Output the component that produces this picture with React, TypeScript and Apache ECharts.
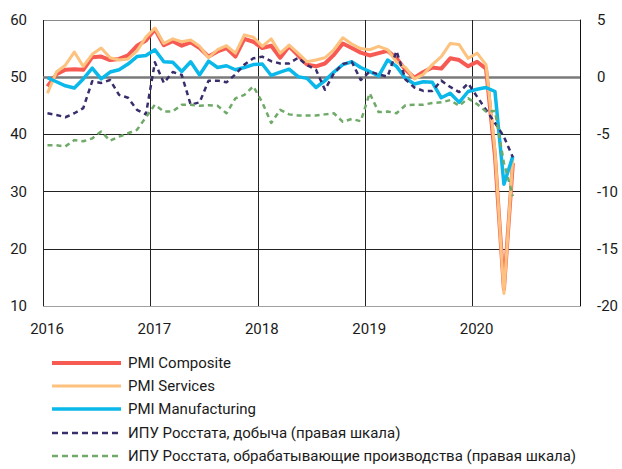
import React, { useEffect, useRef } from "react";
import * as echarts from "echarts";

const yearLabels = ["2016", "2017", "2018", "2019", "2020"];
const seriesNames = [
  "PMI Composite",
  "PMI Services",
  "PMI Manufacturing",
  "ИПУ Росстата, добыча (правая шкала)",
  "ИПУ Росстата, обрабатывающие производства (правая шкала)",
];

// Monthly, Jan 2016 .. May 2020
const pmiComposite = [
  48.4, 50.5, 51.3, 51.4, 51.3, 53.5, 53.6, 53.0, 53.2, 53.8, 55.5, 56.4,
  58.4, 55.6, 56.3, 55.5, 56.1, 55.1, 53.6, 54.5, 55.1, 53.6, 56.7, 56.2,
  55.1, 55.5, 53.4, 55.4, 53.8, 52.2, 51.9, 52.4, 53.9, 55.9, 55.1, 54.3,
  53.8, 54.2, 54.6, 53.3, 51.3, 49.9, 50.9, 51.7, 51.5, 53.3, 53.0, 51.9,
  52.7, 51.5, 36.2, 12.9, 35.0,
];
const pmiServices = [
  47.2, 50.9, 52.1, 54.4, 51.9, 54.0, 55.1, 53.4, 53.0, 53.2, 54.6, 57.0,
  58.6, 55.9, 56.7, 56.2, 56.5, 55.4, 53.4, 54.8, 55.5, 54.2, 57.4, 57.0,
  55.4, 56.7, 54.2, 55.6, 54.2, 52.7, 53.0, 53.4, 54.8, 56.9, 55.8, 55.0,
  54.8, 55.4, 54.8, 52.7, 51.7, 49.7, 50.5, 52.2, 53.6, 55.9, 55.7, 53.3,
  54.2, 52.2, 37.1, 12.2, 35.9,
];
const pmiManufacturing = [
  49.9, 49.2, 48.5, 48.1, 49.7, 51.6, 49.7, 50.9, 51.3, 52.3, 53.6, 53.8,
  54.8, 52.7, 52.6, 51.0, 52.7, 50.4, 52.8, 51.7, 52.0, 51.3, 51.7, 52.2,
  52.3, 50.3, 50.9, 51.4, 50.1, 49.8, 48.2, 49.4, 50.9, 52.2, 52.7, 51.7,
  51.0, 50.2, 53.0, 51.9, 49.8, 48.8, 49.2, 49.1, 46.4, 47.2, 45.6, 47.5,
  47.9, 48.2, 47.5, 31.3, 36.2,
];
const ipuMining = [
  -3.15, -3.3, -3.5, -3.15, -2.7, -0.35, -0.5, -0.25, -1.55, -1.8, -2.85, -3.25,
  1.3, -0.5, 0.45, 0.2, -2.4, -2.2, -0.3, -0.3, -0.45, 0.25, 1.1, 1.65,
  1.8, 1.4, 1.2, 1.2, 1.7, 1.05, 0.65, -1.1, 0.35, 1.15, 1.35, -0.25,
  0.5, 0.25, 0.05, 2.3, -0.2, -0.9, -1.2, -1.2, -0.3, -0.85, -1.3, -0.55,
  -1.7, -2.85, -4.0, -5.2, -7.0,
];
const ipuManufacturing = [
  -5.95, -5.95, -6.05, -5.5, -5.6, -5.35, -4.75, -5.55, -5.2, -4.9, -4.6, -3.5,
  -2.4, -3.0, -3.0, -2.4, -2.4, -2.5, -2.45, -2.5, -3.15, -1.85, -1.55, -0.8,
  -2.2, -4.0, -2.85, -3.25, -3.35, -3.35, -3.35, -3.25, -3.15, -3.9, -3.65, -3.85,
  -1.4, -3.05, -3.0, -3.15, -2.45, -2.4, -2.4, -2.25, -2.2, -2.0, -2.5, -1.85,
  -2.35, -3.0, -2.95, -7.5, -10.4,
];

const colors = ["#F65A52", "#FDC27E", "#0BB8EA", "#3A2D6C", "#6FAA69"];
const widths = [4, 3, 3.5, 2.5, 2.5];
const dashed = [false, false, false, true, true];
const axisIdx = [0, 0, 0, 1, 1];
const allData = [pmiComposite, pmiServices, pmiManufacturing, ipuMining, ipuManufacturing];

const toPairs = (arr: number[]) => arr.map((v, i) => [i + 0.5, v]);

export default function App() {
  const ref = useRef<HTMLDivElement>(null);
  useEffect(() => {
    if (!ref.current) return;
    document.body.style.margin = "0";
    const chart = echarts.init(ref.current, null, { renderer: "svg" });
    const font = "Roboto";
    const series: any[] = allData.map((d, k) => ({
      name: seriesNames[k],
      type: "line",
      yAxisIndex: axisIdx[k],
      data: toPairs(d),
      showSymbol: false,
      symbol: "none",
      lineStyle: {
        color: colors[k],
        width: widths[k],
        type: dashed[k] ? [5, 4] : "solid",
        join: "round",
      },
      z: 3 + k,
    }));
    series[0].markLine = {
      silent: true,
      symbol: "none",
      label: { show: false },
      lineStyle: { color: "#7a7a7a", width: 2.5, type: "solid" },
      data: [{ yAxis: 50 }],
      z: 2,
    };
    const legendRows = [363, 386, 409, 433, 456];
    const graphic: any[] = [];
    seriesNames.forEach((n, k) => {
      graphic.push({
        type: "line",
        shape: { x1: 52, y1: legendRows[k], x2: 121, y2: legendRows[k] },
        style: {
          stroke: colors[k],
          lineWidth: dashed[k] ? 2.5 : widths[k],
          lineDash: dashed[k] ? [6, 4] : null,
        },
      });
      graphic.push({
        type: "text",
        x: 128,
        y: legendRows[k],
        style: {
          text: n,
          font: `15px ${font}`,
          fill: "#1a1a1a",
          verticalAlign: "middle",
        },
      });
    });
    chart.setOption({
      animation: false,
      backgroundColor: "#ffffff",
      grid: { left: 43, right: 42, top: 20, bottom: 163 },
      xAxis: {
        type: "value",
        min: 0,
        max: 60,
        interval: 12,
        axisLine: { show: false },
        axisTick: { show: false },
        splitLine: { show: true, lineStyle: { color: "#222", width: 1 } },
        axisLabel: {
          margin: 15,
          fontFamily: font,
          fontSize: 15,
          color: "#1a1a1a",
          padding: [0, 0, 0, 8],
          formatter: (v: number) => {
            const i = v / 12;
            return Number.isInteger(i) && i < yearLabels.length ? yearLabels[i] : "";
          },
        },
      },
      yAxis: [
        {
          type: "value",
          min: 10,
          max: 60,
          interval: 10,
          axisLine: { show: false },
          axisTick: { show: false },
          splitLine: {
            show: true,
            lineStyle: { color: ["#a0a0a0", "#222", "#222", "#222", "#222", "#8a8a8a"], width: 1 },
          },
          axisLabel: { margin: 16, fontFamily: font, fontSize: 15, color: "#1a1a1a" },
        },
        {
          type: "value",
          min: -20,
          max: 5,
          interval: 5,
          axisLine: { show: true, lineStyle: { color: "#111", width: 1 } },
          axisTick: { show: false },
          splitLine: { show: false },
          axisLabel: { margin: 17, fontFamily: font, fontSize: 15, color: "#1a1a1a" },
        },
      ],
      series,
      graphic,
    });
    return () => chart.dispose();
  }, []);
  return (
    <div
      ref={ref}
      style={{ position: "absolute", left: 0, top: 0, width: 622, height: 469 }}
    />
  );
}
